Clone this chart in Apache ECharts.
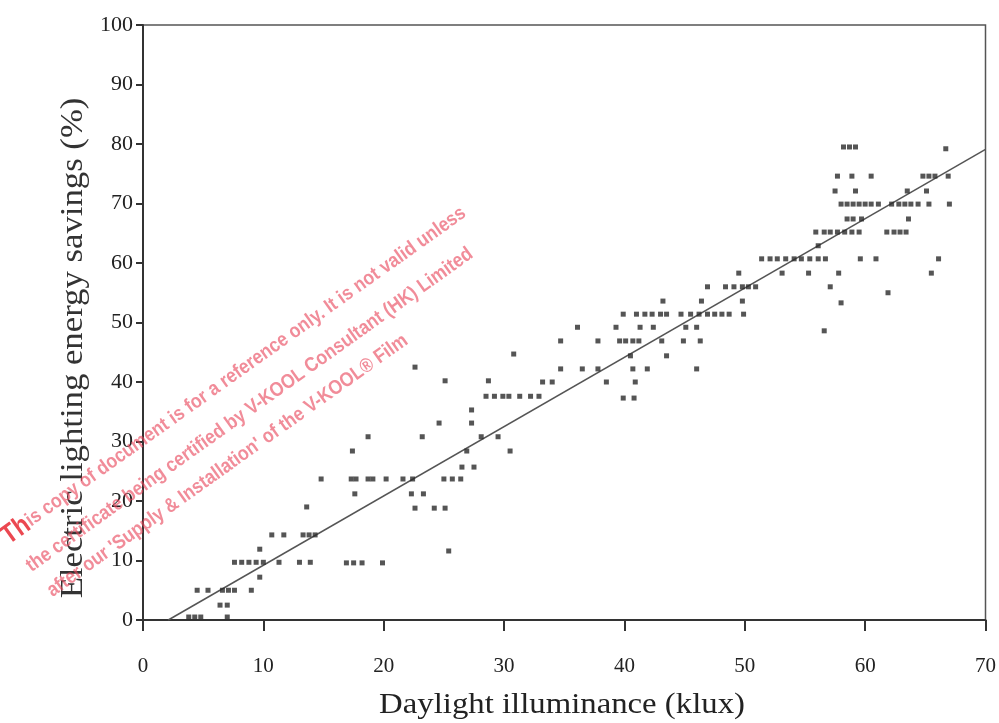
<!DOCTYPE html>
<html>
<head>
<meta charset="utf-8">
<script src="https://cdn.jsdelivr.net/npm/echarts@6/dist/echarts.min.js"></script>
<style>
  html, body { margin: 0; padding: 0; background: #fff; }
  #main { width: 999px; height: 723px; }
</style>
</head>
<body>
<div id="main"></div>
<script>
    // measured points, [illuminance klux, savings %]
    var savingsPoints = [
        [3.8, 0.5], [4.3, 0.5], [4.8, 0.5], [7.0, 0.5],
        [6.4, 2.5], [7.0, 2.5],
        [4.5, 5], [5.4, 5], [6.6, 5], [7.1, 5], [7.6, 5], [9.0, 5],
        [9.7, 7.2],
        [7.6, 9.7], [8.2, 9.7], [8.8, 9.7], [9.4, 9.7], [10.0, 9.7], [11.3, 9.7], [13.0, 9.7], [13.9, 9.7],
        [16.9, 9.6], [17.5, 9.6], [18.2, 9.6], [19.9, 9.6],
        [25.4, 11.6], [9.7, 11.9],
        [10.7, 14.3], [11.7, 14.3], [13.3, 14.3], [13.8, 14.3], [14.3, 14.3],
        [13.6, 19.0], [22.6, 18.8], [24.2, 18.8], [25.1, 18.8],
        [17.6, 21.2], [22.3, 21.2], [23.3, 21.2],
        [14.8, 23.7], [17.3, 23.7], [17.7, 23.7], [18.7, 23.7], [19.1, 23.7], [20.2, 23.7], [21.6, 23.7],
        [22.4, 23.7], [25.0, 23.7], [25.7, 23.7], [26.4, 23.7],
        [26.5, 25.7], [27.5, 25.7],
        [17.4, 28.4], [26.9, 28.4], [30.5, 28.4],
        [18.7, 30.8], [23.2, 30.8], [28.1, 30.8], [29.5, 30.8],
        [24.6, 33.1], [27.3, 33.1], [27.3, 35.3],
        [28.5, 37.6], [29.2, 37.6], [29.9, 37.6], [30.4, 37.6], [31.3, 37.6], [32.2, 37.6], [32.9, 37.6],
        [39.9, 37.3], [40.8, 37.3],
        [25.1, 40.2], [28.7, 40.2], [33.2, 40.0], [34.0, 40.0], [38.5, 40.0], [40.9, 40.0],
        [22.6, 42.5], [34.7, 42.2], [36.5, 42.2], [37.8, 42.2], [40.7, 42.2], [41.9, 42.2], [46.0, 42.2],
        [30.8, 44.7], [40.5, 44.4], [43.5, 44.4],
        [34.7, 46.9], [37.8, 46.9], [39.6, 46.9], [40.1, 46.9], [40.7, 46.9], [41.2, 46.9], [43.1, 46.9],
        [44.9, 46.9], [46.3, 46.9],
        [36.1, 49.2], [39.3, 49.2], [41.3, 49.2], [42.4, 49.2], [45.1, 49.2], [46.0, 49.2], [56.6, 48.6],
        [39.9, 51.4], [41.0, 51.4], [41.7, 51.4], [42.3, 51.4], [43.0, 51.4], [43.5, 51.4], [44.7, 51.4],
        [45.5, 51.4], [46.2, 51.4], [46.9, 51.4], [47.5, 51.4], [48.1, 51.4], [48.7, 51.4], [49.9, 51.4],
        [43.2, 53.6], [46.4, 53.6], [49.8, 53.6], [58.0, 53.3],
        [46.9, 56.0], [48.4, 56.0], [49.1, 56.0], [49.8, 56.0], [50.3, 56.0], [50.9, 56.0], [57.1, 56.0],
        [61.9, 55.0],
        [49.5, 58.3], [53.1, 58.3], [55.3, 58.3], [57.8, 58.3], [65.5, 58.3],
        [51.4, 60.7], [52.1, 60.7], [52.7, 60.7], [53.4, 60.7], [54.1, 60.7], [54.7, 60.7], [55.4, 60.7],
        [56.1, 60.7], [56.7, 60.7], [59.6, 60.7], [60.9, 60.7], [66.1, 60.7],
        [56.1, 62.9],
        [55.9, 65.2], [56.6, 65.2], [57.1, 65.2], [57.7, 65.2], [58.3, 65.2], [58.9, 65.2], [59.5, 65.2],
        [61.8, 65.2], [62.4, 65.2], [62.9, 65.2], [63.4, 65.2],
        [58.5, 67.4], [59.0, 67.4], [59.7, 67.4], [63.6, 67.4],
        [58.0, 69.9], [58.5, 69.9], [59.0, 69.9], [59.5, 69.9], [60.0, 69.9], [60.5, 69.9], [61.1, 69.9],
        [62.2, 69.9], [62.8, 69.9], [63.3, 69.9], [63.8, 69.9], [64.4, 69.9], [65.3, 69.9], [67.0, 69.9],
        [57.5, 72.1], [59.2, 72.1], [63.5, 72.1], [65.1, 72.1],
        [57.7, 74.6], [58.9, 74.6], [60.5, 74.6], [64.8, 74.6], [65.3, 74.6], [65.8, 74.6], [66.9, 74.6],
        [58.2, 79.5], [58.7, 79.5], [59.2, 79.5], [66.7, 79.2]
    ];

    // fitted line end points
    var fitLine = [[2.1, 0], [70, 79.1]];

    var xTicks = [0, 10, 20, 30, 40, 50, 60, 70];
    var yTicks = [0, 10, 20, 30, 40, 50, 60, 70, 80, 90, 100];

    var watermarkLines = [
        '{b|Th}is copy of document is for a reference only. It is not valid unless',
        'the certificate being certified by V-KOOL Consultant (HK) Limited',
        "after our 'Supply & Installation' of the V-KOOL\u00ae Film"
    ];

    var serif = '"Liberation Serif", "DejaVu Serif", serif';
    var sans = '"Liberation Sans", Arial, sans-serif';
    var angle = 35.5 * Math.PI / 180;
    var starts = [[12, 550], [34, 576], [55, 601]];

    var chart = echarts.init(document.getElementById('main'));

    chart.setOption({
        backgroundColor: '#fff',
        animation: false,
        grid: {
            left: 143,
            right: 12,
            top: 25,
            bottom: 103,
            show: true,
            borderColor: '#555',
            borderWidth: 1.5
        },
        xAxis: {
            type: 'value',
            min: xTicks[0],
            max: xTicks[xTicks.length - 1],
            interval: 10,
            axisLine: { lineStyle: { color: '#333', width: 2 } },
            axisTick: { length: 11, lineStyle: { color: '#333', width: 2 } },
            axisLabel: { margin: 36, fontFamily: serif, fontSize: 21, color: '#222' },
            splitLine: { show: false }
        },
        yAxis: {
            type: 'value',
            min: yTicks[0],
            max: yTicks[yTicks.length - 1],
            interval: 10,
            axisLine: { lineStyle: { color: '#333', width: 2 } },
            axisTick: { length: 7, lineStyle: { color: '#333', width: 2 } },
            axisLabel: { margin: 10, fontFamily: serif, fontSize: 22, color: '#222' },
            splitLine: { show: false }
        },
        graphic: [{
            type: 'text',
            x: 74,
            y: 348,
            rotation: Math.PI / 2,
            scaleX: 1.12,
            style: {
                text: 'Electric lighting energy savings (%)',
                fontFamily: serif,
                fontSize: 31,
                fill: '#333',
                textAlign: 'center',
                textVerticalAlign: 'middle'
            }
        }, {
            type: 'text',
            x: 562,
            y: 705,
            scaleX: 1.13,
            style: {
                text: 'Daylight illuminance (klux)',
                fontFamily: serif,
                fontSize: 29,
                fill: '#222',
                textAlign: 'center',
                textVerticalAlign: 'middle'
            }
        }].concat(watermarkLines.map(function(line, i) {
            return {
                type: 'text',
                x: starts[i][0],
                y: starts[i][1],
                rotation: angle,
                scaleX: 0.88,
                z: 100,
                style: {
                    text: line,
                    fontFamily: sans,
                    fontSize: 20,
                    fontWeight: 'bold',
                    fill: 'rgba(232, 70, 90, 0.62)',
                    textAlign: 'left',
                    textVerticalAlign: 'bottom',
                    rich: {
                        b: {
                            fontFamily: sans,
                            fontSize: 27,
                            fontWeight: 'bold',
                            fill: 'rgba(232, 40, 50, 0.85)'
                        }
                    }
                }
            };
        })),
        series: [{
            type: 'line',
            data: fitLine,
            showSymbol: false,
            lineStyle: { color: '#555', width: 1.5 },
            z: 1
        }, {
            type: 'scatter',
            data: savingsPoints,
            symbol: 'rect',
            symbolSize: [5, 5],
            itemStyle: { color: '#2b2b2b' },
            z: 2
        }]
    });
</script>
</body>
</html>
